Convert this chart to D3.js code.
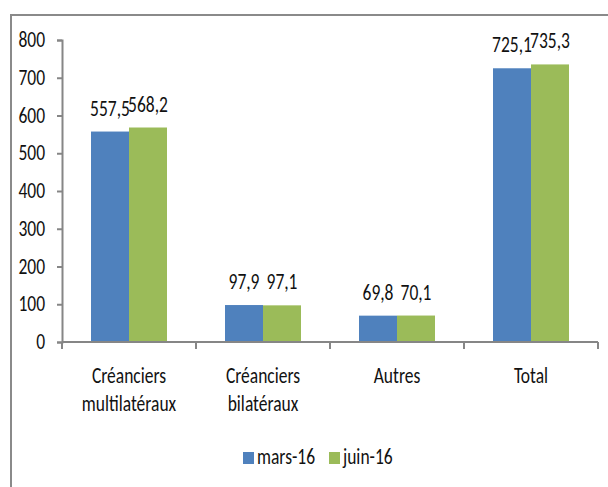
<!DOCTYPE html>
<html><head><meta charset="utf-8">
<script src="https://cdn.jsdelivr.net/npm/d3@7"></script>
<style>
html,body{margin:0;padding:0;background:#fff;}
svg text{font-family:Carlito,Calibri,"Liberation Sans",sans-serif;fill:#111;}
</style></head><body>
<svg id="chart" width="608" height="487"></svg>
<script>
const categories = [["Créanciers","multilatéraux"],["Créanciers","bilatéraux"],["Autres"],["Total"]];
const seriesNames = ["mars-16","juin-16"];
const mars16 = [557.5, 97.9, 69.8, 725.1];
const juin16 = [568.2, 97.1, 70.1, 735.3];
const labelsMars = ["557,5","97,9","69,8","725,1"];
const labelsJuin = ["568,2","97,1","70,1","735,3"];
const yTicks = [0,100,200,300,400,500,600,700,800];
const colors = ["#4F81BD","#9BBB59"];

const svg = d3.select("#chart");
const fs = 17.5;
const sy = 1.3;
const tf = (x,y)=>`translate(${x},${y}) scale(1,${sy})`;

svg.append("path").attr("d","M11,487 V15 H608").attr("fill","none").attr("stroke","#8a8a8a").attr("stroke-width",2);

const x0 = d3.scaleBand().domain(d3.range(categories.length)).range([62,598]);
const x1 = d3.scaleBand().domain([0,1]).range([0,76]);
const y = d3.scaleLinear().domain([0,800]).range([342,40]);

const seriesVals = [mars16, juin16];
const seriesLabels = [labelsMars, labelsJuin];
const bx = (i,s)=>x0(i)+(x0.bandwidth()-76)/2+x1(s);
seriesVals.forEach((vals,s)=>{
  const g = svg.append("g");
  g.selectAll("rect").data(vals).join("rect")
    .attr("x",(d,i)=>bx(i,s))
    .attr("width",x1.bandwidth())
    .attr("y",d=>y(d))
    .attr("height",d=>y(0)-y(d))
    .attr("fill",colors[s]);
  g.selectAll("text").data(vals).join("text")
    .attr("transform",(d,i)=>tf(bx(i,s)+x1.bandwidth()/2, y(d)-16))
    .attr("text-anchor","middle")
    .attr("font-size",fs)
    .text((d,i)=>seriesLabels[s][i]);
});

// y axis
const yAxis = d3.axisLeft(y).tickValues(yTicks).tickSize(5).tickFormat(d3.format("d"));
const ya = svg.append("g").attr("transform","translate(62,0)").call(yAxis);
ya.select(".domain").attr("stroke","#868686").attr("stroke-width",2);
ya.selectAll(".tick line").attr("stroke","#868686").attr("stroke-width",2);
ya.selectAll(".tick text").attr("font-size",fs).attr("fill","#111").attr("font-family",null)
  .attr("x",null).attr("dy",null).attr("transform",tf(-17,6.5));

// x axis
const xa = svg.append("g").attr("transform","translate(0,342)");
xa.append("line").attr("x1",62).attr("x2",598).attr("y1",0).attr("y2",0).attr("stroke","#868686").attr("stroke-width",2);
const bounds = d3.range(categories.length).map(i=>x0(i)).concat([x0.range()[1]]);
xa.selectAll("line.t").data(bounds).join("line").attr("class","t")
  .attr("x1",d=>d).attr("x2",d=>d).attr("y1",0).attr("y2",7)
  .attr("stroke","#868686").attr("stroke-width",2);
categories.forEach((lines,i)=>{
  lines.forEach((t,j)=>{
    xa.append("text").attr("text-anchor","middle").attr("font-size",fs)
      .attr("transform",tf(x0(i)+x0.bandwidth()/2, 41+j*28)).text(t);
  });
});

// legend
const leg = svg.append("g");
const legX = [243,329];
seriesNames.forEach((n,s)=>{
  leg.append("rect").attr("x",legX[s]).attr("y",452).attr("width",11).attr("height",12).attr("fill",colors[s]);
  leg.append("text").attr("transform",tf(legX[s]+14,464)).attr("font-size",fs).text(n);
});
</script>
</body></html>
